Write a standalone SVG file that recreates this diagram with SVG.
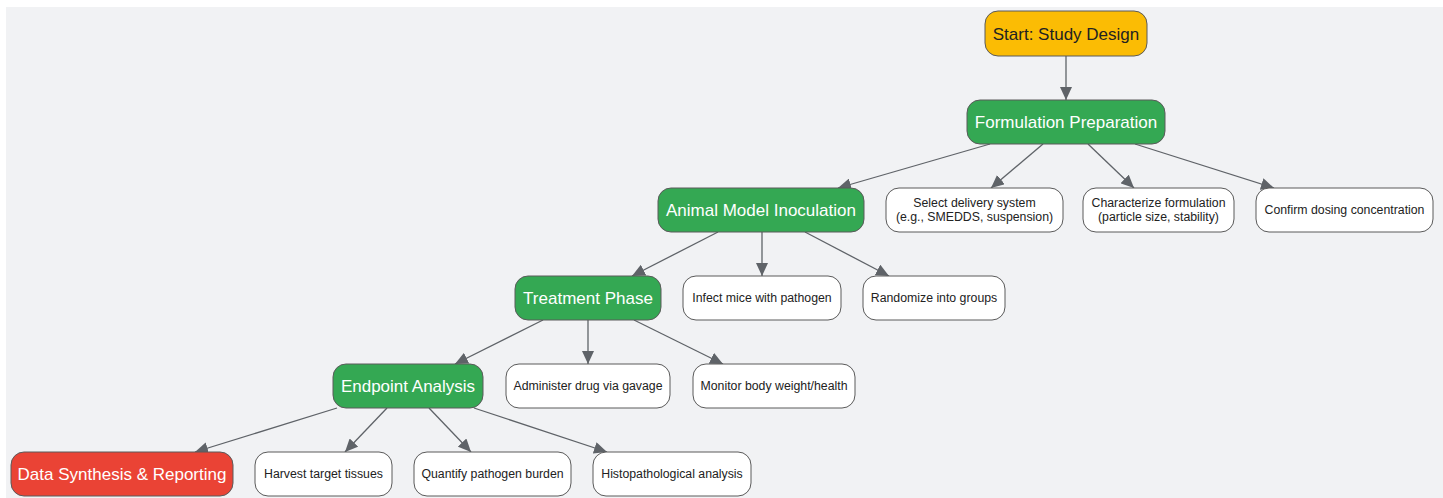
<svg xmlns="http://www.w3.org/2000/svg" width="1443" height="498" viewBox="0 0 1443 498">
<style>
.n rect{stroke:#5a5a5a;stroke-width:1}
.g rect{fill:#34a853}
.w rect{fill:#ffffff}
.big{font-family:"Liberation Sans",Arial,sans-serif;font-size:17px;text-anchor:middle}
.sm{font-family:"Liberation Sans",Arial,sans-serif;font-size:12.3px;text-anchor:middle;fill:#222}
.wt{fill:#ffffff}
#edges line{stroke:#5f6368;stroke-width:1.3;marker-end:url(#ah)}
</style>
<defs>
<marker id="ah" markerUnits="userSpaceOnUse" markerWidth="14" markerHeight="12" refX="13" refY="6" orient="auto">
<path d="M0,0 L13,6 L0,12 z" fill="#5f6368"/>
</marker>
</defs>
<rect x="6" y="7" width="1437" height="491" fill="#f1f2f4"/>
<g id="edges">
<line x1="1066" y1="56" x2="1066" y2="100"/>
<line x1="990" y1="144" x2="838" y2="188"/>
<line x1="1043" y1="144" x2="991" y2="188"/>
<line x1="1088" y1="144" x2="1134" y2="188"/>
<line x1="1135" y1="144" x2="1274" y2="188"/>
<line x1="718" y1="232" x2="632" y2="276"/>
<line x1="762" y1="232" x2="762" y2="276"/>
<line x1="805" y1="232" x2="889" y2="276"/>
<line x1="543" y1="320" x2="455" y2="364"/>
<line x1="588" y1="320" x2="588" y2="364"/>
<line x1="634" y1="320" x2="723" y2="364"/>
<line x1="337" y1="408" x2="195" y2="452"/>
<line x1="387" y1="408" x2="345" y2="452"/>
<line x1="429" y1="408" x2="471" y2="452"/>
<line x1="474" y1="408" x2="607" y2="452"/>
</g>
<g id="start" class="n"><rect x="985" y="11" width="162" height="45" rx="13" fill="#fbbc04"/><text class="big" x="1066" y="39.5" fill="#222">Start: Study Design</text></g>
<g id="formulation" class="n g"><rect x="967" y="100" width="198" height="44" rx="13"/><text class="big wt" x="1066" y="128">Formulation Preparation</text></g>
<g id="animal" class="n g"><rect x="658" y="188" width="206" height="44" rx="13"/><text class="big wt" x="761" y="216">Animal Model Inoculation</text></g>
<g id="select" class="n w"><rect x="886" y="188" width="177" height="44" rx="13"/><text class="sm" x="974.5" y="207">Select delivery system</text><text class="sm" x="974.5" y="221">(e.g., SMEDDS, suspension)</text></g>
<g id="characterize" class="n w"><rect x="1083" y="188" width="151" height="44" rx="13"/><text class="sm" x="1158.5" y="207">Characterize formulation</text><text class="sm" x="1158.5" y="221">(particle size, stability)</text></g>
<g id="confirm" class="n w"><rect x="1256" y="188" width="177" height="44" rx="13"/><text class="sm" x="1344.5" y="214.3">Confirm dosing concentration</text></g>
<g id="treatment" class="n g"><rect x="515" y="276" width="146" height="44" rx="13"/><text class="big wt" x="588" y="304">Treatment Phase</text></g>
<g id="infect" class="n w"><rect x="683" y="276" width="158" height="44" rx="13"/><text class="sm" x="762" y="302.3">Infect mice with pathogen</text></g>
<g id="randomize" class="n w"><rect x="863" y="276" width="142" height="44" rx="13"/><text class="sm" x="934" y="302.3">Randomize into groups</text></g>
<g id="endpoint" class="n g"><rect x="333" y="364" width="150" height="44" rx="13"/><text class="big wt" x="408" y="392">Endpoint Analysis</text></g>
<g id="administer" class="n w"><rect x="506" y="364" width="164" height="44" rx="13"/><text class="sm" x="588" y="390.3">Administer drug via gavage</text></g>
<g id="monitor" class="n w"><rect x="693" y="364" width="162" height="44" rx="13"/><text class="sm" x="774" y="390.3">Monitor body weight/health</text></g>
<g id="data" class="n"><rect x="11" y="452" width="222" height="44" rx="13" fill="#ea4335"/><text class="big wt" x="122" y="480">Data Synthesis &amp; Reporting</text></g>
<g id="harvest" class="n w"><rect x="255" y="452" width="137" height="44" rx="13"/><text class="sm" x="323.5" y="478.3">Harvest target tissues</text></g>
<g id="quantify" class="n w"><rect x="414" y="452" width="157" height="44" rx="13"/><text class="sm" x="492.5" y="478.3">Quantify pathogen burden</text></g>
<g id="histo" class="n w"><rect x="593" y="452" width="158" height="44" rx="13"/><text class="sm" x="672" y="478.3">Histopathological analysis</text></g>
</svg>
